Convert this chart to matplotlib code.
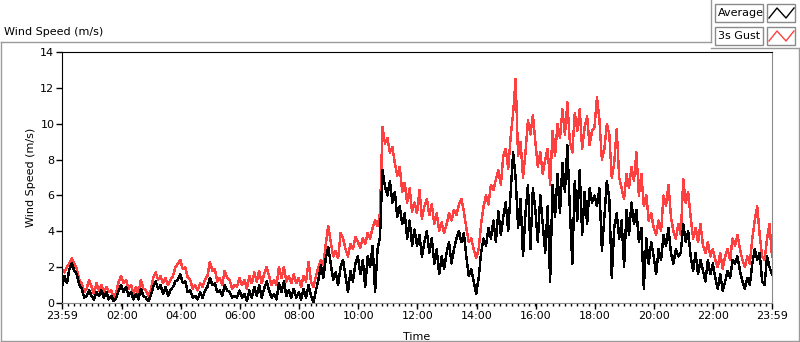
import numpy as np
import matplotlib
matplotlib.use("Agg")
import matplotlib.pyplot as plt
from matplotlib import lines
from matplotlib.patches import Rectangle
from matplotlib.ticker import MultipleLocator

# 5-minute samples, one row per hour (last value is 23:59)
avg_speed = [
    0.9, 1.5, 1.1, 1.9, 2.2, 1.8, 1.6, 1.0, 0.8, 0.3, 0.4, 0.7,
    0.4, 0.2, 0.6, 0.4, 0.7, 0.3, 0.6, 0.2, 0.4, 0.1, 0.3, 0.7,
    1.0, 0.6, 0.9, 0.4, 0.6, 0.2, 0.5, 0.2, 0.8, 0.4, 0.3, 0.1,
    0.4, 0.9, 1.2, 0.8, 1.0, 0.5, 0.9, 0.4, 0.7, 0.9, 1.2, 1.3,
    1.6, 1.1, 1.2, 0.6, 0.7, 0.3, 0.4, 0.2, 0.6, 0.3, 0.7, 0.9,
    1.4, 1.0, 1.1, 0.6, 0.7, 0.4, 1.0, 0.7, 0.6, 0.3, 0.4, 0.3,
    0.7, 0.3, 0.5, 0.1, 0.7, 0.3, 0.9, 0.4, 1.0, 0.3, 0.8, 1.2,
    0.7, 0.3, 0.5, 0.2, 1.1, 0.6, 1.2, 0.4, 0.7, 0.3, 0.8, 0.3,
    0.6, 0.2, 0.8, 0.3, 1.0, 0.4, 0.0, 0.7, 1.3, 2.1, 1.4, 2.5,
    3.1, 2.2, 1.3, 1.7, 1.0, 2.0, 2.4, 1.5, 0.6, 1.8, 1.2, 2.2,
    2.6, 1.6, 2.4, 0.9, 2.6, 2.0, 3.2, 0.6, 3.0, 3.7, 7.4, 6.5,
    6.0, 6.8, 5.6, 6.2, 4.8, 5.4, 4.4, 5.0, 3.6, 4.6, 3.2, 4.1,
    3.2, 3.8, 2.6, 3.4, 4.0, 2.8, 3.6, 2.2, 3.0, 1.6, 2.6, 1.9,
    2.8, 3.4, 2.2, 3.0, 3.6, 4.0, 3.4, 3.9, 2.6, 1.5, 1.9, 1.2,
    0.5, 1.4, 2.8, 3.6, 3.2, 4.2, 3.6, 4.6, 3.4, 5.1, 3.8, 4.8,
    5.6, 4.0, 6.2, 8.4, 7.0, 4.2, 5.8, 2.6, 5.0, 6.6, 3.0, 6.4,
    5.2, 3.4, 6.0, 4.4, 2.8, 5.4, 1.2, 6.6, 4.8, 7.2, 5.0, 7.8,
    6.2, 8.8, 5.2, 2.2, 6.8, 4.6, 7.4, 3.8, 6.2, 4.4, 6.4, 5.6,
    6.0, 5.4, 6.4, 2.9, 4.8, 6.8, 5.8, 1.4, 4.2, 5.0, 3.6, 4.6,
    2.0, 5.2, 3.8, 5.6, 4.4, 5.2, 3.4, 4.2, 0.8, 3.6, 2.2, 3.4,
    2.6, 1.6, 3.0, 2.4, 3.8, 3.2, 4.2, 2.8, 2.2, 3.0, 2.6, 2.8,
    4.4, 3.4, 4.0, 2.6, 1.8, 2.8, 1.6, 2.4, 1.8, 1.2, 2.4, 1.6,
    2.2, 1.4, 0.8, 1.6, 0.7, 1.2, 1.8, 1.4, 2.4, 2.2, 2.6, 1.8,
    1.2, 0.8, 1.4, 1.0, 2.2, 3.0, 2.4, 2.8, 1.2, 1.0, 2.6, 2.0,
    1.6,
]

gust_speed = [
    1.9, 1.7, 2.0, 2.2, 2.5, 2.2, 1.9, 1.3, 1.1, 0.6, 0.8, 1.3,
    0.9, 0.5, 1.1, 0.7, 1.0, 0.6, 0.9, 0.6, 0.7, 0.3, 0.6, 1.2,
    1.5, 1.1, 1.3, 0.8, 1.0, 0.5, 0.9, 0.5, 1.3, 0.8, 0.7, 0.4,
    0.7, 1.4, 1.7, 1.3, 1.5, 1.1, 1.4, 1.0, 1.3, 1.5, 2.0, 2.2,
    2.4, 1.9, 2.0, 1.4, 1.3, 0.8, 1.0, 0.7, 1.1, 0.9, 1.3, 1.5,
    2.3, 1.8, 1.9, 1.2, 1.4, 1.0, 1.8, 1.4, 1.3, 0.8, 1.0, 0.9,
    1.4, 1.0, 1.3, 0.8, 1.5, 1.1, 1.7, 1.2, 1.8, 1.1, 1.6, 2.0,
    1.5, 1.0, 1.3, 1.0, 2.0, 1.4, 2.0, 1.2, 1.5, 1.1, 1.6, 1.1,
    1.4, 0.9, 1.5, 1.2, 2.3, 1.2, 0.9, 1.5, 2.0, 2.4, 2.1, 3.3,
    4.3, 3.4, 2.6, 2.9, 2.5, 3.9, 3.6, 3.0, 2.6, 3.3, 3.0, 3.7,
    3.4, 3.1, 3.6, 3.3, 3.9, 3.6, 4.2, 4.6, 4.3, 5.0, 9.8, 8.9,
    9.2, 8.4, 8.7, 7.8, 7.1, 7.6, 6.2, 6.7, 5.6, 6.4, 5.1, 5.6,
    5.0, 6.3, 4.7, 5.4, 5.8, 4.9, 5.5, 4.4, 5.0, 4.0, 4.5, 3.9,
    4.4, 5.0, 4.6, 5.2, 4.9, 5.5, 5.8, 5.1, 4.2, 3.4, 3.6, 3.0,
    2.5, 3.0, 4.4, 5.4, 6.0, 5.5, 6.6, 6.3, 6.9, 7.4, 6.6, 8.2,
    8.6, 7.5, 9.3, 10.6, 12.5, 8.2, 9.0, 7.0, 8.4, 10.2, 9.4, 10.5,
    9.0, 7.6, 8.4, 7.2, 8.0, 8.6, 6.6, 9.6, 8.2, 10.0, 9.2, 10.8,
    9.4, 11.2, 9.0, 8.4, 10.6, 9.6, 10.8, 8.6, 9.8, 10.4, 8.8, 9.6,
    9.8, 11.5, 10.2, 8.0, 8.6, 10.0, 9.4, 7.0, 7.8, 9.7, 7.0, 6.4,
    5.8, 7.2, 6.4, 7.6, 6.8, 8.4, 6.0, 7.2, 5.4, 6.0, 4.6, 5.0,
    4.2, 3.8, 4.6, 4.0, 6.0, 5.4, 6.6, 4.8, 4.0, 3.6, 4.4, 3.8,
    6.9, 5.6, 6.2, 4.8, 3.6, 4.2, 3.4, 4.4, 3.2, 2.8, 3.4, 2.6,
    3.0, 2.4, 2.0, 2.8, 1.9, 2.6, 3.0, 2.4, 3.6, 3.2, 3.8, 3.0,
    2.4, 2.0, 2.6, 2.2, 3.6, 4.6, 5.4, 3.8, 2.6, 2.4, 3.6, 4.4,
    2.6,
]

minutes = np.arange(len(avg_speed)) * 5

tick_minutes = [0, 121, 241, 361, 481, 601, 721, 841, 961, 1081, 1201, 1321, 1440]
tick_labels = ["23:59", "02:00", "04:00", "06:00", "08:00", "10:00", "12:00",
               "14:00", "16:00", "18:00", "20:00", "22:00", "23:59"]

W, H = 800, 342
GUST_RED = '#ff4040'
FS = 8


def px(x, y):
    # pixel (from top-left) -> figure fraction
    return x / W, 1 - y / H


fig = plt.figure(figsize=(W / 100, H / 100), dpi=100)
fig.patch.set_facecolor('white')

ax = fig.add_axes([62 / W, 1 - 303 / H, 710 / W, 251 / H])
ax.plot(minutes, gust_speed, color=GUST_RED, linewidth=1, antialiased=False)
ax.plot(minutes, avg_speed, color='black', linewidth=1, antialiased=False)

ax.set_xlim(0, 1440)
ax.set_ylim(0, 14)
ax.set_yticks(range(0, 15, 2))
ax.set_xticks(tick_minutes)
ax.set_xticklabels(tick_labels)
ax.xaxis.set_minor_locator(MultipleLocator(12))
ax.tick_params(axis='both', which='major', direction='out', length=4, width=1,
               labelsize=FS, pad=1.5, colors='black')
ax.tick_params(axis='x', which='minor', direction='out', length=2.5, width=1)
ax.set_xlabel('Time', fontsize=FS, labelpad=1)
ax.set_ylabel('Wind Speed (m/s)', fontsize=FS, labelpad=3)
ax.xaxis.set_label_coords(0.5, -0.115)

for side in ['left', 'top']:
    ax.spines[side].set_color('black')
for side in ['right', 'bottom']:
    ax.spines[side].set_color('#8a8a8a')

# outer panel frame
fig.text(4 / W, 1 - 32 / H, 'Wind Speed (m/s)', fontsize=FS, va='center', ha='left')
frame = [((0.5, 42), (711, 42)), ((711, 42), (711, 0)), ((711, 48), (799, 48)),
         ((0.5, 42), (0.5, 341)), ((0.5, 341), (799, 341)), ((799, 48), (799, 341))]
for (x1, y1), (x2, y2) in frame:
    p1, p2 = px(x1, y1), px(x2, y2)
    fig.add_artist(lines.Line2D([p1[0], p2[0]], [p1[1], p2[1]], color='#9a9a9a', linewidth=1))

# legend boxes
for label, color, top in [('Average', 'black', 4), ('3s Gust', GUST_RED, 27)]:
    x0, y0 = px(715, top + 18)
    fig.add_artist(Rectangle((x0, y0), 48 / W, 18 / H, transform=fig.transFigure,
                             facecolor='white', edgecolor='#8a8a8a', linewidth=1))
    fig.text(x0 + 3 / W, y0 + 9 / H, label, fontsize=FS, va='center', ha='left')
    x1, _ = px(767, top + 18)
    fig.add_artist(Rectangle((x1, y0), 28 / W, 18 / H, transform=fig.transFigure,
                             facecolor='white', edgecolor='#8a8a8a', linewidth=1))
    zx = [769, 777, 786, 794]
    zy = [top + 14, top + 4, top + 14, top + 4]
    pts = [px(a, b) for a, b in zip(zx, zy)]
    fig.add_artist(lines.Line2D([p[0] for p in pts], [p[1] for p in pts],
                                color=color, linewidth=1))

fig.savefig('out.png', dpi=100)
plt.close()
